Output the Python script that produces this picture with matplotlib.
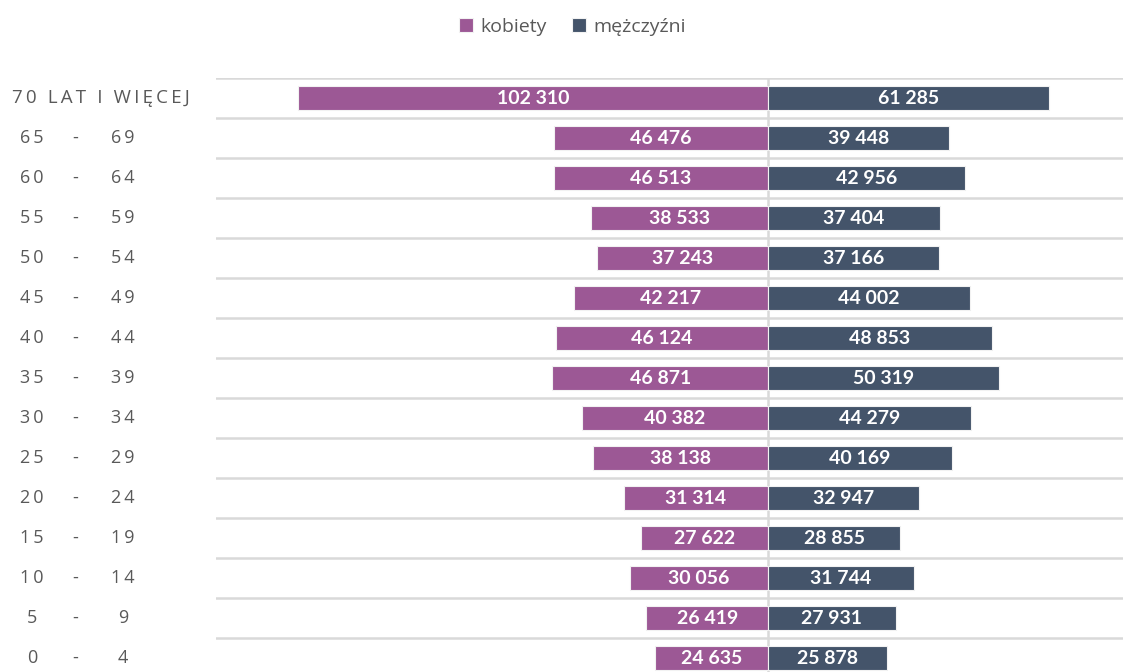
import matplotlib.pyplot as plt
import matplotlib.transforms as mtransforms
import numpy as np

age_groups = ['70 LAT I WIĘCEJ', '65-69', '60-64', '55-59', '50-54', '45-49', '40-44',
              '35-39', '30-34', '25-29', '20-24', '15-19', '10-14', '5-9', '0-4']
women = [102310, 46476, 46513, 38533, 37243, 42217, 46124, 46871, 40382, 38138,
         31314, 27622, 30056, 26419, 24635]
men = [61285, 39448, 42956, 37404, 37166, 44002, 48853, 50319, 44279, 40169,
       32947, 28855, 31744, 27931, 25878]

c_women = '#9C5895'
c_men = '#44546A'
c_text = '#595959'
c_grid = '#D9D9D9'
fam = ['Open Sans', 'DejaVu Sans']


def fmt(v):
    return f"{v:,}".replace(",", " ")


def spaced(s):
    return '\u2009'.join(s)


W, H = 1123, 672
fig = plt.figure(figsize=(W / 100, H / 100), dpi=100)
ax = fig.add_axes([216 / W, -6 / H, 907 / W, 600 / H])

y = np.arange(len(age_groups))
ax.barh(y, -np.array(women), height=0.58, color=c_women, edgecolor='#F2F2F2', linewidth=0.8, zorder=3,
        label='kobiety')
ax.barh(y, men, height=0.58, color=c_men, edgecolor='#F2F2F2', linewidth=0.8, zorder=3,
        label='mężczyźni')

for i in range(len(age_groups)):
    ax.text(-women[i] / 2, i, fmt(women[i]), ha='center', va='center', color='white',
            fontsize=14, fontweight='bold', family=['Lato', 'DejaVu Sans'], zorder=4)
    ax.text(men[i] / 2, i, fmt(men[i]), ha='center', va='center', color='white',
            fontsize=14, fontweight='bold', family=['Lato', 'DejaVu Sans'], zorder=4)

ax.set_xlim(-120100, 77300)
ax.set_ylim(len(age_groups) - 0.5, -0.5)
for b in np.arange(-0.5, len(age_groups) - 0.5, 1.0):
    ax.axhline(b, color=c_grid, lw=1.8, zorder=1)
ax.axvline(0, color=c_grid, lw=1.8, zorder=1)

ax.set_xticks([])
ax.set_yticks([])
for s in ax.spines.values():
    s.set_visible(False)

# category labels with letter spacing
tr = mtransforms.blended_transform_factory(fig.transFigure, ax.transData)
for i, lab in enumerate(age_groups):
    if '-' in lab:
        a, b = lab.split('-')
        ax.text(32 / W, i, spaced(a), transform=tr, ha='center', va='center',
                color=c_text, fontsize=13, family=fam)
        ax.text(75 / W, i, '-', transform=tr, ha='center', va='center',
                color=c_text, fontsize=13, family=fam)
        ax.text(123 / W, i, spaced(b), transform=tr, ha='center', va='center',
                color=c_text, fontsize=13, family=fam)
    else:
        ax.text(12 / W, i, spaced(lab), transform=tr, ha='left', va='center',
                color=c_text, fontsize=13.5, family=fam)

leg = fig.legend(loc='center', bbox_to_anchor=(572 / W, 1 - 27 / H), ncol=2, frameon=False,
                 handlelength=0.75, handleheight=0.75, handletextpad=0.35, columnspacing=1.3,
                 prop={'family': fam, 'size': 14})
for t in leg.get_texts():
    t.set_color(c_text)

fig.savefig('out.png', dpi=100)
